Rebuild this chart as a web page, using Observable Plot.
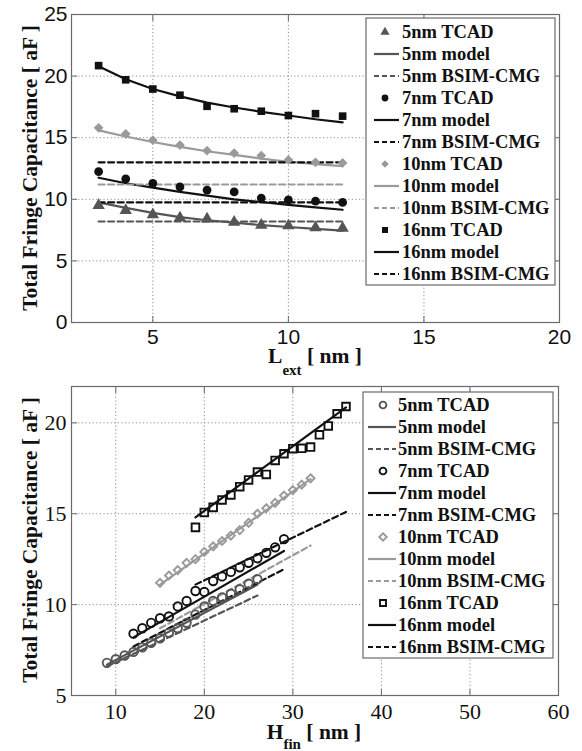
<!DOCTYPE html>
<html><head><meta charset="utf-8">
<script src="https://cdn.jsdelivr.net/npm/d3@7"></script>
<script src="https://cdn.jsdelivr.net/npm/@observablehq/plot@0.6"></script>
<style>
html,body{margin:0;padding:0;background:#fff;}
#chart{width:582px;}
#chart svg{display:block;}
</style></head><body><div id="chart"></div>
<script>
// ---------- shared series styling ----------
const sizeNames = ["5nm", "7nm", "10nm", "16nm"];
const sizeColors = ["#555555", "#111111", "#9a9a9a", "#111111"];
const topSymbols = ["triangle", "circle", "diamond2", "square"];
const bottomSymbols = ["circle", "circle", "diamond2", "square"];

// ---------- top panel: vs L_ext ----------
const Lext = [3, 4, 5, 6, 7, 8, 9, 10, 11, 12];
const topTcad5 = [9.5, 9.1, 8.75, 8.5, 8.4, 8.15, 7.9, 7.85, 7.7, 7.65];
const topModel5 = [9.75, 9.3, 8.9, 8.55, 8.3, 8.1, 7.9, 7.75, 7.6, 7.45];
const topBsim5 = [8.2, 8.2];
const topTcad7 = [12.25, 11.65, 11.3, 11.0, 10.75, 10.6, 10.1, 9.95, 9.85, 9.75];
const topModel7 = [11.75, 11.3, 10.95, 10.6, 10.3, 10.0, 9.78, 9.55, 9.35, 9.15];
const topBsim7 = [9.75, 9.75];
const topTcad10 = [15.8, 15.3, 14.8, 14.4, 13.95, 13.75, 13.55, 13.2, 13.0, 12.95];
const topModel10 = [15.6, 15.1, 14.65, 14.25, 13.9, 13.6, 13.3, 13.05, 12.85, 12.7];
const topBsim10 = [11.2, 11.2];
const topTcad16 = [20.85, 19.7, 18.95, 18.45, 17.55, 17.35, 17.15, 16.8, 16.95, 16.75];
const topModel16 = [20.8, 19.75, 18.95, 18.35, 17.85, 17.45, 17.1, 16.8, 16.5, 16.25];
const topBsim16 = [13.0, 13.0];
const topBsimX = [3, 12];
const topXTicks = [5, 10, 15, 20];
const topYTicks = [0, 5, 10, 15, 20, 25];

// ---------- bottom panel: vs H_fin ----------
const hfin5 = [9, 10, 11, 12, 13, 14, 15, 16, 17, 18, 19, 20, 21, 22, 23, 24, 25, 26];
const botTcad5 = [6.8, 7.0, 7.2, 7.4, 7.65, 7.9, 8.15, 8.45, 8.7, 9.0, 9.45, 9.9, 10.2, 10.4, 10.6, 10.85, 11.15, 11.4];
const botLine5X = [9, 26];
const botModel5 = [6.7, 11.1];
const botBsim5 = [6.6, 10.5];

const hfin7 = [12, 13, 14, 15, 16, 17, 18, 19, 20, 21, 22, 23, 24, 25, 26, 27, 28, 29];
const botTcad7 = [8.4, 8.7, 9.0, 9.25, 9.35, 9.9, 10.2, 10.75, 10.7, 11.3, 11.55, 11.8, 12.05, 12.3, 12.55, 12.85, 13.15, 13.6];
const botLine7X = [12, 29];
const botModel7 = [8.2, 12.95];
const botBsim7 = [7.7, 11.95];

const hfin10 = [15, 16, 17, 18, 19, 20, 21, 22, 23, 24, 25, 26, 27, 28, 29, 30, 31, 32];
const botTcad10 = [11.2, 11.6, 11.9, 12.3, 12.5, 12.9, 13.2, 13.5, 13.8, 14.1, 14.5, 15.0, 15.3, 15.6, 16.0, 16.3, 16.6, 16.95];
const botLine10X = [15, 32];
const botModel10 = [11.1, 16.9];
const botBsim10 = [8.7, 13.25];

const hfin16 = [19, 20, 21, 22, 23, 24, 25, 26, 27, 28, 29, 30, 31, 32, 33, 34, 35, 36];
const botTcad16 = [14.25, 15.07, 15.35, 15.76, 16.03, 16.49, 16.86, 17.29, 17.16, 17.93, 18.3, 18.58, 18.6, 18.67, 19.34, 19.83, 20.5, 20.9];
const botLine16X = [19, 36];
const botModel16 = [14.8, 20.85];
const botBsim16 = [11.1, 15.1];
const botXTicks = [10, 20, 30, 40, 50, 60];
const botYTicks = [5, 10, 15, 20];

// ---------- helpers ----------
const pts = (xs, ys) => xs.map((x, i) => ({x, y: ys[i]}));
const DASH = "6,3.5";
const LW = 2.2;
const SERIF = "'Liberation Serif', 'Times New Roman', serif";

const topSeries = [
  {tcad: pts(Lext, topTcad5), model: pts(Lext, topModel5), bsim: pts(topBsimX, topBsim5)},
  {tcad: pts(Lext, topTcad7), model: pts(Lext, topModel7), bsim: pts(topBsimX, topBsim7)},
  {tcad: pts(Lext, topTcad10), model: pts(Lext, topModel10), bsim: pts(topBsimX, topBsim10)},
  {tcad: pts(Lext, topTcad16), model: pts(Lext, topModel16), bsim: pts(topBsimX, topBsim16)}
];
const botSeries = [
  {tcad: pts(hfin5, botTcad5), model: pts(botLine5X, botModel5), bsim: pts(botLine5X, botBsim5)},
  {tcad: pts(hfin7, botTcad7), model: pts(botLine7X, botModel7), bsim: pts(botLine7X, botBsim7)},
  {tcad: pts(hfin10, botTcad10), model: pts(botLine10X, botModel10), bsim: pts(botLine10X, botBsim10)},
  {tcad: pts(hfin16, botTcad16), model: pts(botLine16X, botModel16), bsim: pts(botLine16X, botBsim16)}
];

function seriesMarks(series, symbols, open, r) {
  const marks = [];
  series.forEach((s, i) => {
    const c = sizeColors[i];
    marks.push(Plot.line(s.bsim, {x: "x", y: "y", stroke: c, strokeWidth: LW, strokeDasharray: DASH}));
    marks.push(Plot.line(s.model, {x: "x", y: "y", stroke: c, strokeWidth: LW}));
  });
  series.forEach((s, i) => {
    const c = sizeColors[i];
    const rr = r[i];
    marks.push(open
      ? Plot.dot(s.tcad, {x: "x", y: "y", symbol: symbols[i], r: rr, fill: "none", stroke: c, strokeWidth: 1.9})
      : Plot.dot(s.tcad, {x: "x", y: "y", symbol: symbols[i], r: rr, fill: c, stroke: "none"}));
  });
  return marks;
}

function axesMarks(xTicks, yTicks, xGrid, yGrid, pad) {
  const grid = {stroke: "#8f8f8f", strokeOpacity: 1, strokeDasharray: "1.2,2.4", strokeWidth: 1};
  return {
    back: [Plot.gridX(xGrid, grid), Plot.gridY(yGrid, grid)],
    front: [
      Plot.frame({stroke: "#6a6a6a", strokeWidth: 1.2}),
      Plot.axisX(xTicks, {anchor: "bottom", tickSize: 0, tickPadding: pad.x, label: null}),
      Plot.axisX(xTicks, {anchor: "bottom", tickSize: -6, tickFormat: () => "", label: null, stroke: "#6a6a6a"}),
      Plot.axisX(xTicks, {anchor: "top", tickSize: -6, tickFormat: () => "", label: null, stroke: "#6a6a6a"}),
      Plot.axisY(yTicks, {anchor: "left", tickSize: 0, tickPadding: pad.y, label: null}),
      Plot.axisY(yTicks, {anchor: "left", tickSize: -6, tickFormat: () => "", label: null, stroke: "#6a6a6a"}),
      Plot.axisY(yTicks, {anchor: "right", tickSize: -6, tickFormat: () => "", label: null, stroke: "#6a6a6a"})
    ]
  };
}

function drawLegend(svg, box, symbols, open) {
  const g = d3.select(svg).append("g").attr("text-anchor", "start");
  g.append("rect").attr("x", box.x0).attr("y", box.y0).attr("width", box.w).attr("height", box.h)
    .attr("fill", "white").attr("stroke", "#6a6a6a").attr("stroke-width", 1.2);
  let row = 0;
  sizeNames.forEach((name, i) => {
    const c = sizeColors[i];
    const items = [["tcad", name + " TCAD"], ["model", name + " model"], ["bsim", name + " BSIM-CMG"]];
    items.forEach(([kind, label]) => {
      const y = box.firstY + row * box.step;
      if (kind === "tcad") {
        const sym = {circle: d3.symbolCircle, triangle: d3.symbolTriangle, diamond2: d3.symbolDiamond2, square: d3.symbolSquare}[symbols[i]];
        const r = box.markR;
        const p = g.append("path").attr("transform", `translate(${box.markX},${y})`)
          .attr("d", d3.symbol(sym, Math.PI * r * r)());
        if (open) p.attr("fill", "none").attr("stroke", c).attr("stroke-width", 1.9);
        else p.attr("fill", c);
      } else {
        const l = g.append("line").attr("x1", box.lineX1).attr("x2", box.lineX2).attr("y1", y).attr("y2", y)
          .attr("stroke", c).attr("stroke-width", LW);
        if (kind === "bsim") l.attr("stroke-dasharray", "5,3");
      }
      g.append("text").attr("x", box.textX).attr("y", y).attr("dy", "0.35em")
        .attr("text-anchor", "start")
        .attr("font-family", SERIF).attr("font-weight", "bold")
        .attr("font-size", 18.5).attr("fill", "#111").text(label);
      row++;
    });
  });
}

function yLabel(svg, x, y) {
  d3.select(svg).append("text").attr("transform", `translate(${x},${y}) rotate(-90)`)
    .attr("text-anchor", "middle").attr("font-family", SERIF)
    .attr("font-weight", "bold").attr("font-size", 21.5).attr("fill", "#111")
    .text("Total Fringe Capacitance [ aF ]");
}
function xLabel(svg, x, y, main, sub, subDy) {
  const t = d3.select(svg).append("text").attr("x", x).attr("y", y).attr("text-anchor", "middle")
    .attr("font-family", SERIF).attr("font-weight", "bold")
    .attr("font-size", 21.5).attr("fill", "#111");
  t.append("tspan").text(main);
  t.append("tspan").attr("font-size", 15).attr("dy", subDy).text(sub);
  t.append("tspan").attr("dy", -subDy).text(" [ nm ]");
}

// ---------- top plot ----------
const topAx = axesMarks(topXTicks, topYTicks, [5, 10, 15], [5, 10, 15, 20], {x: 7, y: 4});
const topPlot = Plot.plot({
  width: 582, height: 384,
  marginLeft: 71, marginRight: 23, marginTop: 14, marginBottom: 62,
  x: {domain: [2, 20]},
  y: {domain: [0, 25]},
  style: {fontFamily: "'Liberation Sans', Arial, sans-serif", fontSize: "21px", color: "#111", background: "white"},
  marks: [...topAx.back, ...seriesMarks(topSeries, topSymbols, false, [4.6, 4.4, 4.4, 4.3]), ...topAx.front]
});
drawLegend(topPlot, {x0: 366, y0: 18, w: 189, h: 267, markX: 385, markR: 3.4, lineX1: 374, lineX2: 399, textX: 402, firstY: 32, step: 22.0}, topSymbols, false);
yLabel(topPlot, 37, 168);
xLabel(topPlot, 315, 363, "L", "ext", 12);

// ---------- bottom plot ----------
const botAx = axesMarks(botXTicks, botYTicks, [10, 20, 30, 40, 50], [10, 15, 20], {x: 8, y: 5});
const botPlot = Plot.plot({
  width: 582, height: 367,
  marginLeft: 71, marginRight: 24, marginTop: 2, marginBottom: 56,
  x: {domain: [5, 60]},
  y: {domain: [5, 22]},
  style: {fontFamily: SERIF, fontSize: "22px", color: "#111", background: "white"},
  marks: [...botAx.back, ...seriesMarks(botSeries, bottomSymbols, true, [4.2, 4.2, 3.6, 4.3]), ...botAx.front]
});
drawLegend(botPlot, {x0: 363, y0: 8, w: 190, h: 266, markX: 383, markR: 3.4, lineX1: 368, lineX2: 396, textX: 398, firstY: 21, step: 22.0}, bottomSymbols, true);
yLabel(botPlot, 37, 156);
xLabel(botPlot, 314, 355, "H", "fin", 10);

const chart = document.getElementById("chart");
chart.appendChild(topPlot);
chart.appendChild(botPlot);
</script></body></html>
